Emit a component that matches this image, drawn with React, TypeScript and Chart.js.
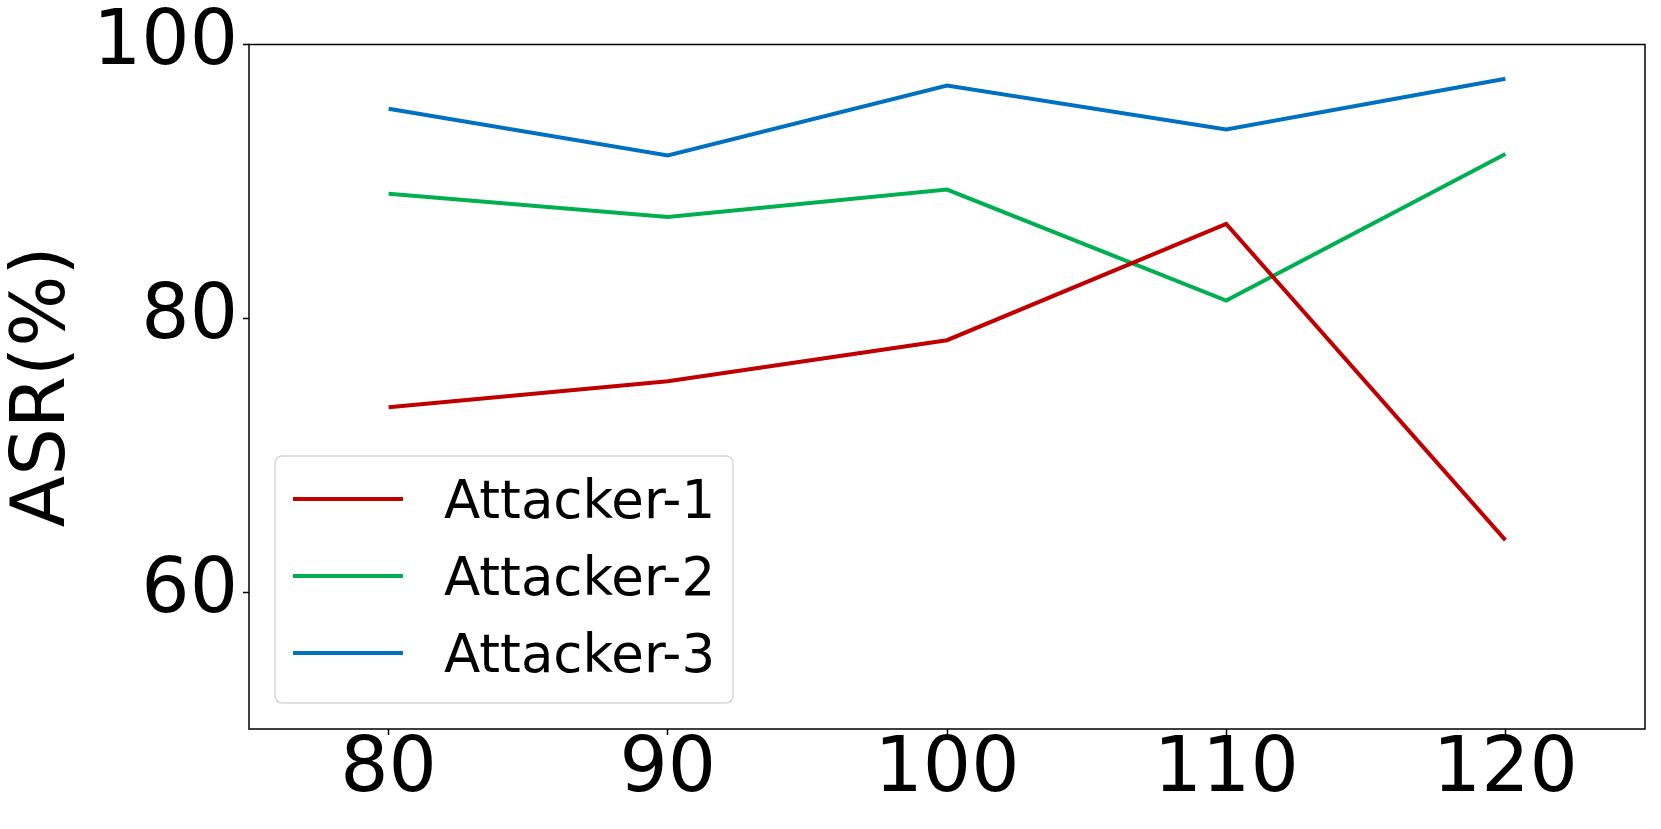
import React, { useEffect, useRef } from "react";
import { Chart, registerables } from "chart.js";

Chart.register(...registerables);

const xValues = [80, 90, 100, 110, 120];
const xTicks = [80, 90, 100, 110, 120];
const yTicks = [60, 80, 100];
const seriesNames = ["Attacker-1", "Attacker-2", "Attacker-3"];
const attacker1 = [73.5, 75.4, 78.4, 86.9, 63.8];
const attacker2 = [89.1, 87.4, 89.4, 81.3, 92.0];
const attacker3 = [95.3, 91.9, 97.0, 93.8, 97.5];
const seriesColors = ["#C00000", "#00B050", "#0070C0"];

const FONT = "'DejaVu Sans', sans-serif";

const framePlugin = {
  id: "frameAndLegend",
  afterDraw(chart: any) {
    const { ctx, chartArea } = chart;
    ctx.save();
    ctx.strokeStyle = "#000";
    ctx.lineWidth = 1.5;
    ctx.strokeRect(chartArea.left, chartArea.top, chartArea.right - chartArea.left, chartArea.bottom - chartArea.top);

    const bx = chartArea.left + 26;
    const bw = 458;
    const bh = 247;
    const by = chartArea.bottom - 26 - bh;
    const r = 8;
    ctx.beginPath();
    ctx.moveTo(bx + r, by);
    ctx.lineTo(bx + bw - r, by);
    ctx.quadraticCurveTo(bx + bw, by, bx + bw, by + r);
    ctx.lineTo(bx + bw, by + bh - r);
    ctx.quadraticCurveTo(bx + bw, by + bh, bx + bw - r, by + bh);
    ctx.lineTo(bx + r, by + bh);
    ctx.quadraticCurveTo(bx, by + bh, bx, by + bh - r);
    ctx.lineTo(bx, by + r);
    ctx.quadraticCurveTo(bx, by, bx + r, by);
    ctx.closePath();
    ctx.fillStyle = "rgba(255,255,255,0.8)";
    ctx.fill();
    ctx.strokeStyle = "#d6d6d6";
    ctx.lineWidth = 1.5;
    ctx.stroke();

    ctx.font = `53px ${FONT}`;
    ctx.textAlign = "left";
    ctx.textBaseline = "alphabetic";
    chart.data.datasets.forEach((ds: any, i: number) => {
      const ly = by + 43 + i * 77;
      ctx.strokeStyle = ds.borderColor;
      ctx.lineWidth = 4;
      ctx.beginPath();
      ctx.moveTo(bx + 18, ly);
      ctx.lineTo(bx + 128, ly);
      ctx.stroke();
      ctx.fillStyle = "#000";
      ctx.fillText(ds.label, bx + 169, ly + 19);
    });
    ctx.restore();
  },
};

export default function App() {
  const ref = useRef<HTMLCanvasElement>(null);

  useEffect(() => {
    if (!ref.current) return;
    const series = [attacker1, attacker2, attacker3];
    const chart = new Chart(ref.current, {
      type: "line",
      data: {
        datasets: series.map((vals, i) => ({
          label: seriesNames[i],
          data: xValues.map((x, j) => ({ x, y: vals[j] })),
          borderColor: seriesColors[i],
          backgroundColor: seriesColors[i],
          borderWidth: 4,
          pointRadius: 0,
          tension: 0,
          fill: false,
        })),
      },
      options: {
        animation: false,
        responsive: false,
        devicePixelRatio: 1,
        layout: { padding: { top: 44.5, right: 16, left: 0, bottom: 0 } },
        plugins: {
          legend: { display: false },
          tooltip: { enabled: false },
        },
        scales: {
          x: {
            type: "linear",
            min: 75,
            max: 125,
            afterBuildTicks: (scale: any) => {
              scale.ticks = xTicks.map((v) => ({ value: v }));
            },
            afterFit: (scale: any) => {
              scale.height = 100;
              scale.paddingLeft = 0;
              scale.paddingRight = 0;
            },
            border: { display: false },
            grid: {
              drawOnChartArea: false,
              drawTicks: true,
              tickLength: 6,
              tickWidth: 1.5,
              tickColor: "#000",
            },
            ticks: {
              color: "#000",
              font: { family: FONT, size: 76, lineHeight: 1 },
              padding: -2,
              maxRotation: 0,
              autoSkip: false,
            },
          },
          y: {
            type: "linear",
            min: 50,
            max: 100,
            afterBuildTicks: (scale: any) => {
              scale.ticks = yTicks.map((v) => ({ value: v }));
            },
            afterFit: (scale: any) => {
              scale.width = 249;
              scale.paddingTop = 0;
              scale.paddingBottom = 0;
            },
            border: { display: false },
            grid: {
              drawOnChartArea: false,
              drawTicks: true,
              tickLength: 6,
              tickWidth: 1.5,
              tickColor: "#000",
            },
            title: {
              display: true,
              text: "ASR(%)",
              color: "#000",
              font: { family: FONT, size: 75 },
              padding: 0,
            },
            ticks: {
              color: "#000",
              font: { family: FONT, size: 76 },
              padding: 5,
              autoSkip: false,
            },
          },
        },
      },
      plugins: [framePlugin],
    });
    return () => chart.destroy();
  }, []);

  return (
    <div style={{ position: "fixed", left: 0, top: 0, width: 1661, height: 829, background: "#fff" }}>
      <canvas ref={ref} width={1661} height={829} style={{ width: 1661, height: 829, display: "block" }} />
    </div>
  );
}
